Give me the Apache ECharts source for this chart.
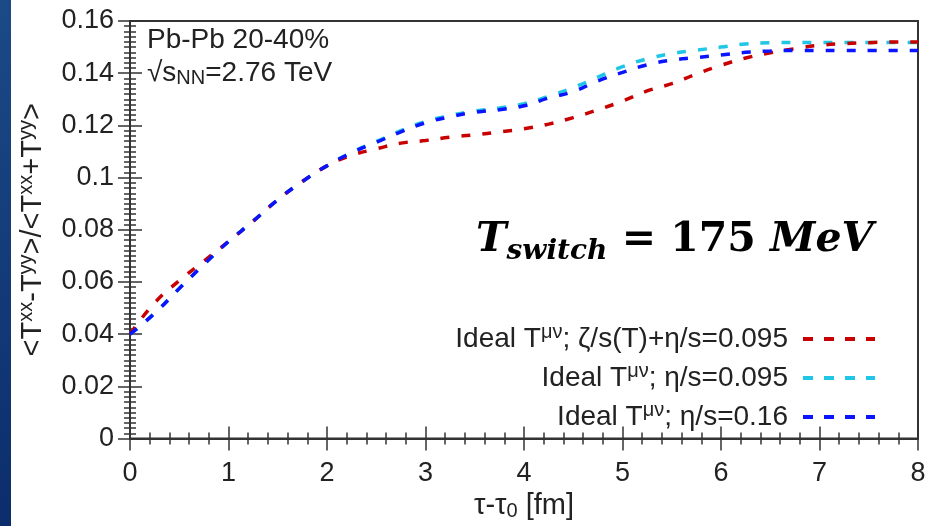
<!DOCTYPE html>
<html>
<head>
<meta charset="utf-8">
<script src="https://cdn.jsdelivr.net/npm/echarts@6/dist/echarts.min.js"></script>
<style>
  body { margin: 0; background: #fff; }
  #strip { position: absolute; left: 0; top: 0; width: 11px; height: 526px;
           background: linear-gradient(#1b4a86, #0c2d6b); }
  #chart { position: absolute; left: 0; top: 0; width: 932px; height: 526px; }
</style>
</head>
<body>
<div id="strip"></div>
<div id="chart"></div>
<script>
// tau - tau0 in fm
const tValues = [0, 0.25, 0.5, 0.75, 1, 1.25, 1.5, 1.75, 2, 2.25, 2.5, 2.75, 3, 3.25, 3.5, 3.75,
  4, 4.25, 4.5, 4.75, 5, 5.25, 5.5, 5.75, 6, 6.25, 6.5, 6.75, 7, 7.25, 7.5, 7.75, 8];
// zeta/s(T) + eta/s = 0.095 (red)
const bulkEta095 = [0.040, 0.052, 0.0605, 0.068, 0.0755, 0.0833, 0.0915, 0.0985, 0.1045, 0.1085,
  0.111, 0.1132, 0.1142, 0.1155, 0.1164, 0.1175, 0.1187, 0.1205, 0.123, 0.126, 0.1293, 0.1332,
  0.136, 0.1397, 0.143, 0.1458, 0.1478, 0.1494, 0.1507, 0.1513, 0.1517, 0.152, 0.152];
// eta/s = 0.095 (cyan)
const eta095 = [0.040, 0.048, 0.0575, 0.0667, 0.0755, 0.0833, 0.0915, 0.0985, 0.1045, 0.1097,
  0.1138, 0.118, 0.1215, 0.1238, 0.1255, 0.1267, 0.1283, 0.1312, 0.1345, 0.1385, 0.1425, 0.1455,
  0.1475, 0.1488, 0.15, 0.1512, 0.1517, 0.1518, 0.1518, 0.1518, 0.1518, 0.1518, 0.1518];
// eta/s = 0.16 (blue)
const eta016 = [0.040, 0.048, 0.0575, 0.0667, 0.0755, 0.0833, 0.0915, 0.0985, 0.1045, 0.1095,
  0.1135, 0.1175, 0.121, 0.1233, 0.125, 0.126, 0.1275, 0.1305, 0.133, 0.137, 0.1403, 0.1432,
  0.145, 0.146, 0.147, 0.148, 0.1485, 0.1487, 0.1487, 0.1487, 0.1487, 0.1487, 0.1487];

const names = [
  "Ideal T{sup|μν}; ζ/s(T)+η/s=0.095",
  "Ideal T{sup|μν}; η/s=0.095",
  "Ideal T{sup|μν}; η/s=0.16"
];
const colors = ["#c80000", "#1fc6e6", "#0a14ff"];
// four short dashes, like the gnuplot key sample
const dashIcon = "path://M0,0h10v4h-10z M21,0h10v4h-10z M42,0h10v4h-10z M63,0h9v4h-9z";

const font = "Liberation Sans";
const supRich = {
  sup: { fontSize: 20, fontFamily: font, color: "#222", padding: [0, 0, 14, 0], verticalAlign: "bottom" },
  sub: { fontSize: 20, fontFamily: font, color: "#222", padding: [10, 0, 0, 0], verticalAlign: "top" }
};

function pairs(arr) {
  return tValues.map((t, i) => [t, arr[i]]);
}
function lineSeries(name, arr, color) {
  return {
    name: name, type: "line", data: pairs(arr), smooth: true, symbol: "none",
    lineStyle: { color: color, width: 3.5, type: [9, 12] },
    itemStyle: { color: color }
  };
}

const axisCommon = {
  axisLine: { lineStyle: { color: "#333", width: 2 } },
  axisTick: { inside: true, length: 12, lineStyle: { color: "#333", width: 1.5 } },
  minorTick: { show: true, length: 6, lineStyle: { color: "#333", width: 1.5 } },
  splitLine: { show: false }
};
const xMinor = { minorTick: Object.assign({}, axisCommon.minorTick, { splitNumber: 5 }) };
const yMinor = { minorTick: Object.assign({}, axisCommon.minorTick, { splitNumber: 10 }) };

let myChart = echarts.init(document.getElementById("chart"));
myChart.setOption({
  animation: false,
  grid: { left: 130, right: 14, top: 21, bottom: 81, show: true, borderColor: "#333", borderWidth: 2 },
  xAxis: [
    Object.assign({
      type: "value", min: 0, max: 8, interval: 1,
      name: "τ-τ{sub|0} [fm]", nameLocation: "middle", nameGap: 50,
      nameTextStyle: { fontSize: 29, fontFamily: font, color: "#222", rich: supRich },
      axisLabel: { fontSize: 27, fontFamily: font, color: "#222", margin: 21 }
    }, axisCommon, xMinor),
    Object.assign({
      type: "value", min: 0, max: 8, interval: 1, position: "top",
      axisLabel: { show: false }
    }, axisCommon, xMinor)
  ],
  yAxis: [
    Object.assign({
      type: "value", min: 0, max: 0.16, interval: 0.02,
      name: "<T{sup|xx}-T{sup|yy}>/<T{sup|xx}+T{sup|yy}>", nameLocation: "middle", nameGap: 80,
      nameTextStyle: { fontSize: 29, fontFamily: font, color: "#222", rich: supRich },
      axisLabel: { fontSize: 27, fontFamily: font, color: "#222", margin: 16 }
    }, axisCommon, yMinor),
    Object.assign({
      type: "value", min: 0, max: 0.16, interval: 0.02, position: "right",
      axisLabel: { show: false }
    }, axisCommon, yMinor)
  ],
  legend: {
    data: names, orient: "vertical", align: "right", right: 52, top: 317,
    icon: dashIcon, itemWidth: 72, itemHeight: 4, itemGap: 8,
    textStyle: { fontSize: 28, fontFamily: font, color: "#222", rich: supRich, padding: [0, 10, 0, 0] },
    formatter: (n) => n
  },
  graphic: [
    {
      type: "text", left: 147, top: 26,
      style: { text: "Pb-Pb 20-40%", font: "28px " + font, fill: "#222" }
    },
    {
      type: "text", left: 147, top: 59,
      style: {
        text: "√s{sub|NN}=2.76 TeV", font: "28px " + font, fill: "#222",
        rich: { sub: { fontSize: 20, fontFamily: font, fill: "#222", padding: [10, 0, 0, 0] } }
      }
    },
    {
      type: "text", left: 476, top: 220,
      style: {
        text: "{t|T}{s|switch}{e| = 175 }{t|MeV}",
        rich: {
          t: { fontSize: 41, fontFamily: "DejaVu Serif", fontWeight: "bold", fontStyle: "italic", fill: "#000" },
          s: { fontSize: 28, fontFamily: "DejaVu Serif", fontWeight: "bold", fontStyle: "italic", fill: "#000", padding: [22, 0, 0, 0] },
          e: { fontSize: 41, fontFamily: "DejaVu Serif", fontWeight: "bold", fill: "#000" }
        }
      }
    }
  ],
  series: [
    lineSeries(names[1], eta095, colors[1]),
    lineSeries(names[0], bulkEta095, colors[0]),
    lineSeries(names[2], eta016, colors[2])
  ]
});
</script>
</body>
</html>
